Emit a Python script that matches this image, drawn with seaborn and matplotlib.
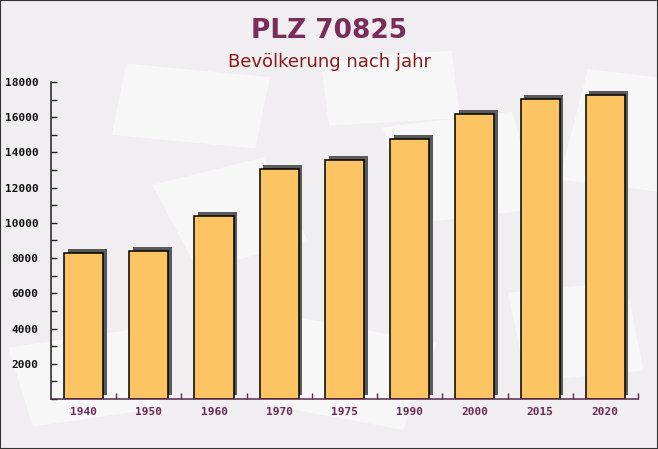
import matplotlib
matplotlib.use("Agg")
import matplotlib.pyplot as plt
import matplotlib.patheffects as pe
from matplotlib.ticker import MultipleLocator, FixedLocator
import pandas as pd
import seaborn as sns

years = ["1940", "1950", "1960", "1970", "1975", "1990", "2000", "2015", "2020"]
population = [8300, 8400, 10400, 13070, 13580, 14770, 16190, 17050, 17270]

title = "PLZ 70825"
subtitle = "Bevölkerung nach jahr"

df = pd.DataFrame({"Jahr": years, "Einwohner": population})

sns.set_theme(style="white")
plt.rcParams["font.family"] = ["DejaVu Sans"]

fig = plt.figure(figsize=(6.58, 4.49), dpi=100)
fig.patch.set_facecolor("#f1eef1")

# faint envelope-like shapes in the background
for (x0, y0, w, h, ang) in [(0.17, 0.70, 0.22, 0.16, -8), (0.62, 0.50, 0.20, 0.22, 10),
                            (0.05, 0.05, 0.20, 0.18, 12), (0.40, 0.10, 0.22, 0.20, -15),
                            (0.80, 0.15, 0.18, 0.20, 8), (0.30, 0.40, 0.18, 0.20, 20),
                            (0.50, 0.72, 0.20, 0.15, 5), (0.85, 0.60, 0.15, 0.25, -10)]:
    fig.patches.append(plt.Rectangle((x0, y0), w, h, angle=ang, transform=fig.transFigure,
                                     facecolor="white", alpha=0.55, edgecolor="none",
                                     zorder=-5))

ax = fig.add_axes([0.0775, 0.1114, 0.892, 0.706])
ax.set_facecolor("none")
ax.set_zorder(2)

sns.barplot(data=df, x="Jahr", y="Einwohner", color="#fcc463", saturation=1,
            width=0.6, edgecolor="black", linewidth=1.1, ax=ax)
for bar in ax.patches:
    bar.set_path_effects([
        pe.SimplePatchShadow(offset=(2.6, 2.6), shadow_rgbFace="#5a5a5a", alpha=1),
        pe.Normal(),
    ])

ax.set_xlim(-0.5, len(years) - 0.5)
ax.set_ylim(0, 18000)
ax.set_xlabel("")
ax.set_ylabel("")

ax.yaxis.set_major_locator(FixedLocator(range(2000, 18001, 2000)))
ax.yaxis.set_minor_locator(MultipleLocator(1000))
ax.xaxis.set_minor_locator(FixedLocator([i + 0.5 for i in range(len(years))]))

ax.tick_params(axis="y", which="both", direction="in", length=4, width=1,
               color="#222222", pad=9, labelsize=8, labelcolor="#111111",
               left=True, right=False)
ax.tick_params(axis="x", which="major", length=0, pad=6, labelsize=8,
               labelcolor="#6b2a55")
ax.tick_params(axis="x", which="minor", direction="in", length=4, width=1,
               color="#5a2a4a", bottom=True, top=False)
for lab in ax.get_xticklabels() + ax.get_yticklabels():
    lab.set_fontfamily("DejaVu Sans Mono")
    lab.set_fontweight("bold")

for side in ["top", "right"]:
    ax.spines[side].set_visible(False)
ax.spines["left"].set_color("#222222")
ax.spines["bottom"].set_color("#5a2a4a")
ax.spines["left"].set_linewidth(1.1)
ax.spines["bottom"].set_linewidth(1.1)

fig.text(0.5, 0.932, title, ha="center", va="center", fontsize=19,
         fontweight="bold", color="#7a2c5a")
fig.text(0.5, 0.862, subtitle, ha="center", va="center", fontsize=13,
         color="#8b1a1a")

fig.patches.append(plt.Rectangle((0, 0), 1, 1, transform=fig.transFigure,
                                 fill=False, edgecolor="#333333", linewidth=1.5))

fig.savefig("out.png", dpi=100, facecolor=fig.get_facecolor())
